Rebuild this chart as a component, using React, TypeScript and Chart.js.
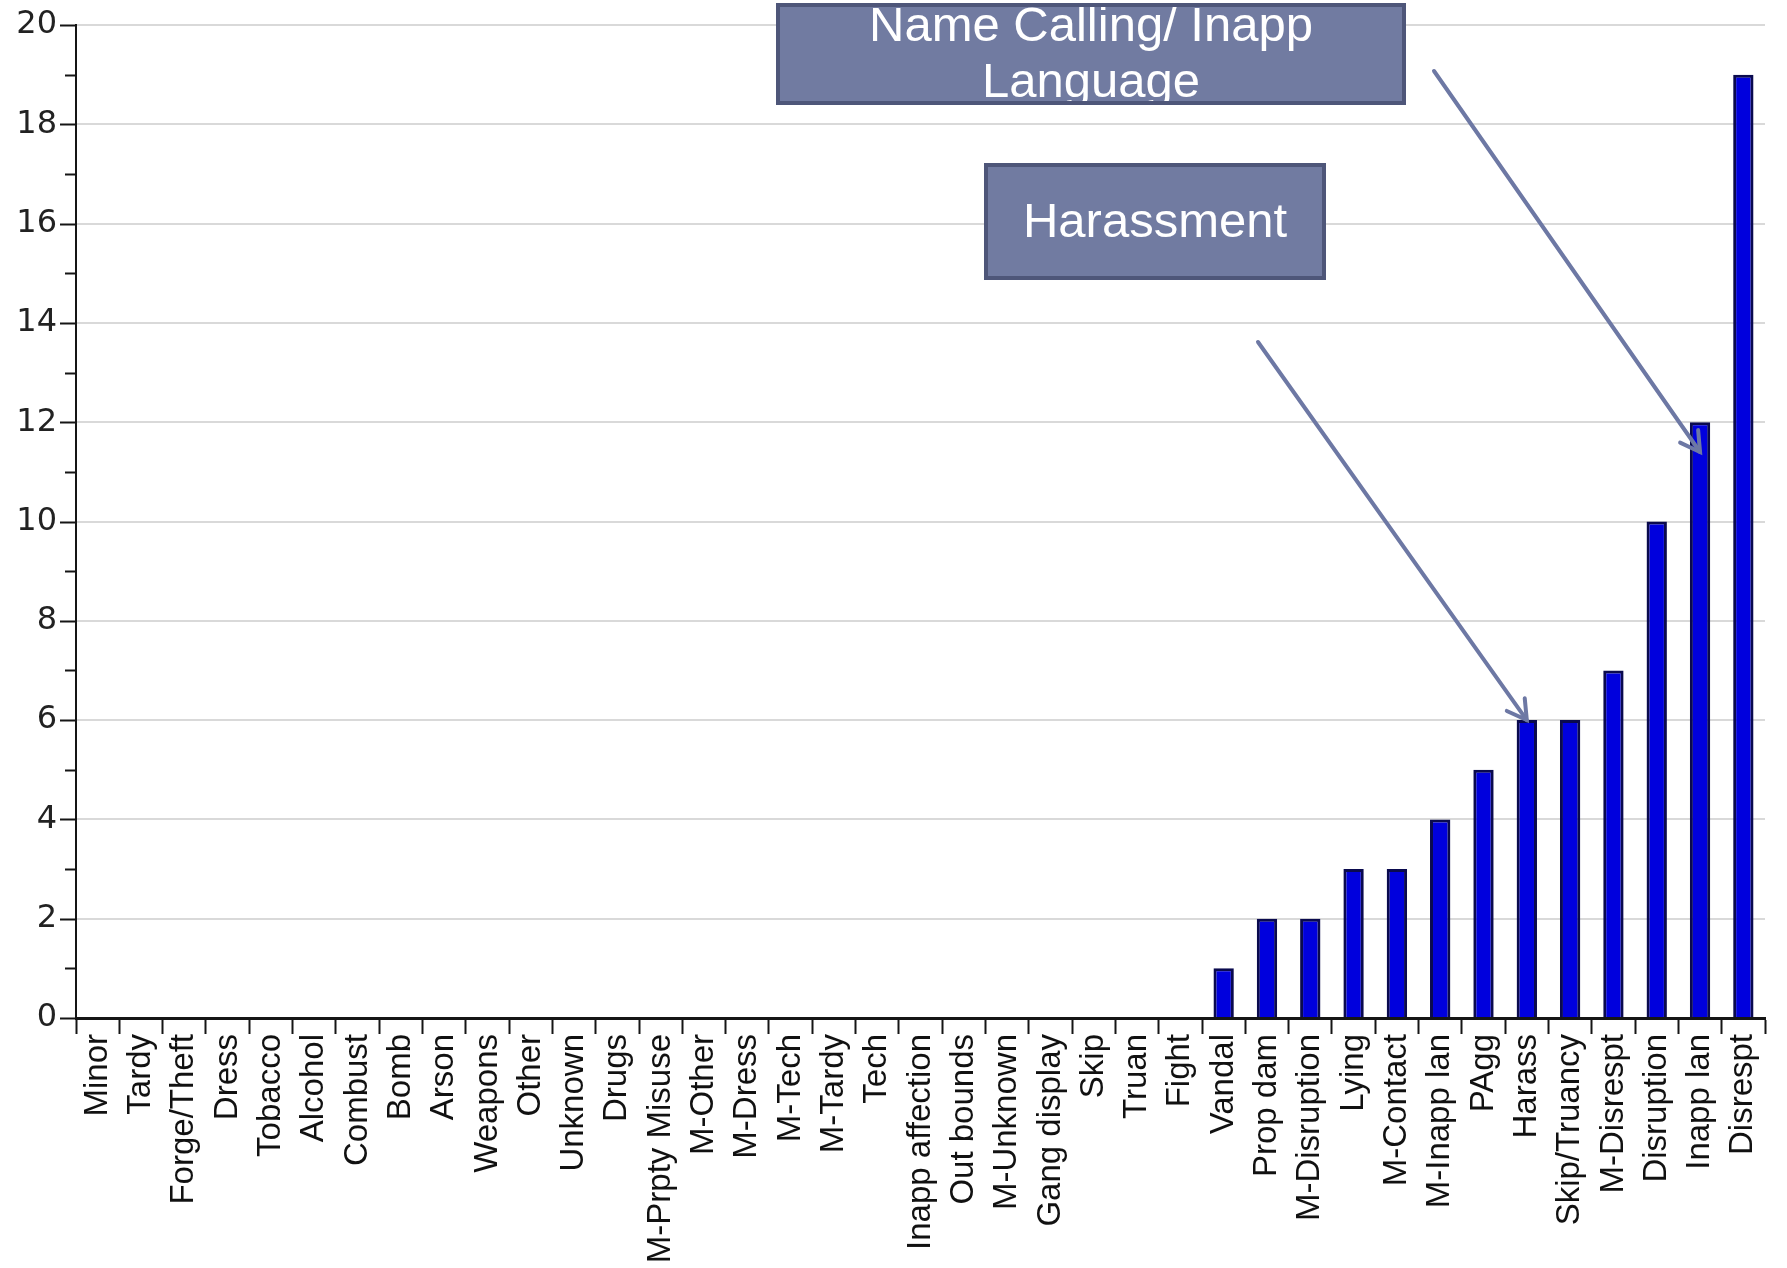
import React, { useEffect, useRef } from "react";
import { Chart, registerables } from "chart.js";

Chart.register(...registerables);

// ---- data ----
const categories = [
  "Minor", "Tardy", "Forge/Theft", "Dress", "Tobacco", "Alcohol", "Combust", "Bomb",
  "Arson", "Weapons", "Other", "Unknown", "Drugs", "M-Prpty Misuse", "M-Other", "M-Dress",
  "M-Tech", "M-Tardy", "Tech", "Inapp affection", "Out bounds", "M-Unknown", "Gang display",
  "Skip", "Truan", "Fight", "Vandal", "Prop dam", "M-Disruption", "Lying", "M-Contact",
  "M-Inapp lan", "PAgg", "Harass", "Skip/Truancy", "M-Disrespt", "Disruption", "Inapp lan",
  "Disrespt",
];
const counts = [
  0, 0, 0, 0, 0, 0, 0, 0,
  0, 0, 0, 0, 0, 0, 0, 0,
  0, 0, 0, 0, 0, 0, 0,
  0, 0, 0, 1, 2, 2, 3, 3,
  4, 5, 6, 6, 7, 10, 12,
  19,
];
const yMin = 0;
const yMax = 20;

// callouts
const calloutLines = [["Name Calling/ Inapp", "Language"], ["Harassment"]];
const calloutTargets = ["Inapp lan", "Harass"];
const calloutTargetValues = [11.4, 6];

// callout layout (pixels)
const calloutBoxes = [
  { x: 778, y: 5, w: 626, h: 98, lineY: [27, 83] },
  { x: 986, y: 165, w: 338, h: 113, lineY: [223] },
];
const calloutTails = [
  { x: 1434, y: 71 },
  { x: 1258, y: 342 },
];

const W = 1787;
const H = 1268;

const yTickPlugin = {
  id: "yTickMarks",
  afterDraw(chart: any) {
    const { ctx } = chart;
    const ys = chart.scales.y;
    const left = chart.chartArea.left;
    ctx.save();
    ctx.strokeStyle = "#151515";
    ctx.lineWidth = 2;
    for (let v = yMin; v <= yMax; v++) {
      const py = Math.round(ys.getPixelForValue(v)) + 0.5;
      const len = v % 2 === 0 ? 16 : 11;
      ctx.beginPath();
      ctx.moveTo(left - len, py);
      ctx.lineTo(left, py);
      ctx.stroke();
    }
    ctx.restore();
  },
};

const calloutPlugin = {
  id: "callouts",
  afterDraw(chart: any) {
    const { ctx } = chart;
    const xs = chart.scales.x;
    const ys = chart.scales.y;
    ctx.save();
    // arrows
    calloutTargets.forEach((name, i) => {
      const idx = categories.indexOf(name);
      const tx = xs.getPixelForValue(idx);
      const ty = ys.getPixelForValue(calloutTargetValues[i]);
      const t = calloutTails[i];
      ctx.strokeStyle = "#6D78A4";
      ctx.lineWidth = 4;
      ctx.lineCap = "round";
      ctx.beginPath();
      ctx.moveTo(t.x, t.y);
      ctx.lineTo(tx, ty);
      ctx.stroke();
      const ang = Math.atan2(ty - t.y, tx - t.x);
      const hl = 22;
      const spread = Math.PI / 6;
      ctx.beginPath();
      ctx.moveTo(tx - hl * Math.cos(ang - spread), ty - hl * Math.sin(ang - spread));
      ctx.lineTo(tx, ty);
      ctx.lineTo(tx - hl * Math.cos(ang + spread), ty - hl * Math.sin(ang + spread));
      ctx.stroke();
    });
    // boxes
    calloutBoxes.forEach((b, i) => {
      ctx.fillStyle = "#717BA1";
      ctx.fillRect(b.x, b.y, b.w, b.h);
      ctx.save();
      ctx.beginPath();
      ctx.rect(b.x, b.y, b.w, b.h);
      ctx.clip();
      ctx.fillStyle = "#ffffff";
      ctx.font = "49px 'Liberation Sans', Arial, sans-serif";
      ctx.textAlign = "center";
      ctx.textBaseline = "middle";
      calloutLines[i].forEach((line, j) => {
        ctx.fillText(line, b.x + b.w / 2, b.lineY[j]);
      });
      ctx.restore();
      ctx.strokeStyle = "#4E5679";
      ctx.lineWidth = 4;
      ctx.strokeRect(b.x, b.y, b.w, b.h);
    });
    ctx.restore();
  },
};

export default function App() {
  const ref = useRef<HTMLCanvasElement | null>(null);
  useEffect(() => {
    if (!ref.current) return;
    const chart = new Chart(ref.current, {
      type: "bar",
      data: {
        labels: categories,
        datasets: [
          {
            data: counts,
            backgroundColor: "#0000DD",
            borderColor: "#0A0A4E",
            borderWidth: 3,
            borderSkipped: "bottom",
            barPercentage: 0.47,
            categoryPercentage: 1,
          },
        ],
      },
      options: {
        responsive: false,
        animation: false,
        layout: { padding: { left: 0, top: 25, right: 22, bottom: 0 } },
        plugins: {
          legend: { display: false },
          tooltip: { enabled: false },
          title: { display: false },
        },
        scales: {
          x: {
            afterFit(scale: any) {
              scale.height = 250;
            },
            border: { display: true, color: "#151515", width: 3 },
            grid: {
              offset: true,
              drawOnChartArea: false,
              drawTicks: true,
              tickLength: 16,
              tickColor: "#151515",
              tickWidth: 2,
            },
            ticks: {
              autoSkip: false,
              minRotation: 90,
              maxRotation: 90,
              padding: 0,
              color: "#111111",
              font: { family: "'Liberation Sans', Arial, sans-serif", size: 33, lineHeight: 1 },
            },
          },
          y: {
            min: yMin,
            max: yMax,
            afterFit(scale: any) {
              scale.width = 76;
              scale.paddingTop = 0;
              scale.paddingBottom = 0;
            },
            border: { display: true, color: "#151515", width: 2 },
            grid: {
              drawTicks: false,
              lineWidth: 2,
              color: (c: any) =>
                c.tick && c.tick.value % 2 === 0 && c.tick.value > 0 ? "#D9D9D9" : "rgba(0,0,0,0)",
            },
            ticks: {
              stepSize: 1,
              padding: 19,
              color: "#222222",
              font: { family: "'DejaVu Sans', sans-serif", size: 32 },
              callback: (v: any) => (Number(v) % 2 === 0 ? String(v) : ""),
            },
          },
        },
      },
      plugins: [yTickPlugin, calloutPlugin],
    });
    return () => chart.destroy();
  }, []);
  return (
    <div style={{ position: "absolute", left: 0, top: 0, width: W, height: H, background: "#fff" }}>
      <canvas ref={ref} width={W} height={H} style={{ display: "block" }} />
    </div>
  );
}
